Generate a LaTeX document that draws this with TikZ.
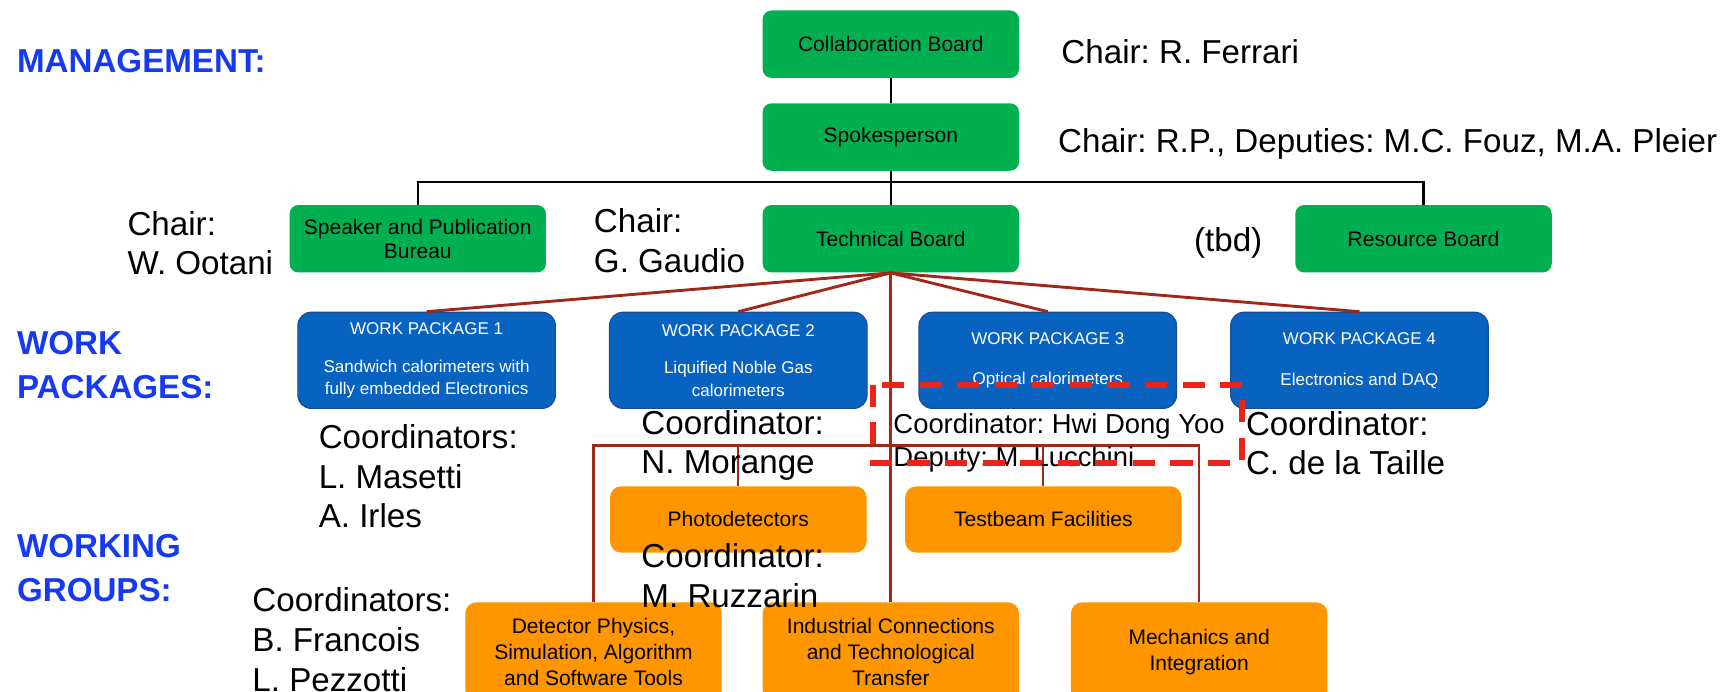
\documentclass[tikz,border=0pt]{standalone}
\usepackage{fontspec}
\setmainfont{Liberation Sans}
\usepackage{tikz}
\usetikzlibrary{positioning}
\frenchspacing
\definecolor{boardgreen}{RGB}{0,176,80}
\definecolor{wpblue}{RGB}{8,99,192}
\definecolor{wpedge}{RGB}{22,78,150}
\definecolor{wgorange}{RGB}{255,150,0}
\definecolor{linkred}{RGB}{160,40,25}
\definecolor{markred}{RGB}{236,36,24}
\definecolor{labelblue}{RGB}{22,58,242}
\tikzset{board/.style = {fill=boardgreen, rounded corners=4pt, minimum width=116pt, minimum height=30.5pt, align=center, font=\fontsize{9.5}{11}\selectfont}}
\tikzset{wpbox/.style = {fill=wpblue, draw=wpedge, line width=0.5pt, text=white, rounded corners=6pt, minimum width=116.5pt, minimum height=43.5pt, align=center, font=\fontsize{7.7}{10}\selectfont}}
\tikzset{wgbox/.style = {fill=wgorange, rounded corners=5pt, minimum width=116pt, align=center, font=\fontsize{9.5}{11.8}\selectfont}}
\tikzset{names/.style = {anchor=west, inner sep=0pt, align=left, font=\fontsize{15}{18}\selectfont}}
\tikzset{sectlabel/.style = {anchor=west, inner sep=0pt, align=left, text=labelblue, font=\bfseries\fontsize{15}{20}\selectfont}}
\tikzset{mgmtlink/.style = {black, line width=1pt}}
\tikzset{techlink/.style = {linkred, line width=1.3pt}}
\tikzset{wglink/.style = {linkred, line width=1pt}}

\begin{document}
\begin{tikzpicture}[x=0.5pt, y=-0.5pt]
      \useasboundingbox (0,0) rectangle (1568,626);

      \node [sectlabel] (mgmtlabel) at (15,55) {MANAGEMENT:};
      \node [sectlabel] (wplabel) at (15,330) {WORK\\PACKAGES:};
      \node [sectlabel] (wglabel) at (15,514) {WORKING\\GROUPS:};

      \node [board] (collab) at (806,40) {Collaboration Board};
      \node [board] (spokes) at (806,124) {Spokesperson};
      \node [board] (speaker) at (378,216) {Speaker and Publication\\Bureau};
      \node [board] (techb) at (806,216) {Technical Board};
      \node [board] (resource) at (1288,216) {Resource Board};

      \node [names] (collabchair) at (960,47) {Chair: R. Ferrari};
      \node [names] (spokeschair) at (957,130) {Chair: R.P., Deputies: M.C. Fouz, M.A. Pleier};
      \node [names] (speakerchair) at (115,220) {Chair:\\W. Ootani};
      \node [names] (techchair) at (537,218) {Chair:\\G. Gaudio};
      \node [names] (resourcechair) at (1080,220) {(tbd)};

      \node [wpbox] (wp1) at (386,326) {WORK PACKAGE 1\\[7pt]Sandwich calorimeters with\\fully embedded Electronics};
      \node [wpbox] (wp2) at (668,326) {WORK PACKAGE 2\\[7pt]Liquified Noble Gas\\calorimeters};
      \node [wpbox] (wp3) at (948,326) {WORK PACKAGE 3\\[8.5pt]Optical calorimeters};
      \node [wpbox] (wp4) at (1230,326) {WORK PACKAGE 4\\[8.5pt]Electronics and DAQ};

      \node [wgbox, minimum height=30pt] (photo) at (668,470) {Photodetectors};
      \node [wgbox, minimum height=30pt, minimum width=125pt] (testb) at (944,470) {Testbeam Facilities};
      \node [wgbox, minimum height=45pt] (detect) at (537,590) {Detector Physics,\\Simulation, Algorithm\\and Software Tools};
      \node [wgbox, minimum height=45pt] (indus) at (806,590) {Industrial Connections\\and Technological\\Transfer};
      \node [wgbox, minimum height=45pt] (mech) at (1085,590) {Mechanics and\\Integration};

      \draw [mgmtlink] (collab) -- (spokes);
      \draw [mgmtlink] (spokes) -- (techb);
      \coordinate (mgmtbar) at (806,165);
      \draw [mgmtlink] (speaker.north) |- (mgmtbar) -| (resource.north);

      \foreach \i in {1,...,4}
        \draw [techlink] (techb.south) -- (wp\i.north);
      \draw [techlink] (techb.south) -- (indus.north);

      \coordinate (wgbar) at (806,403);
      \draw [wglink] (detect.north) |- (wgbar) -| (mech.north);
      \draw [wglink] (photo.north) -- (photo.north |- wgbar);
      \draw [wglink] (testb.north) -- (testb.north |- wgbar);

      \node [names] (wp1coord) at (288,431) {Coordinators:\\L. Masetti\\A. Irles};
      \node [names] (wp2coord) at (580,403) {Coordinator:\\N. Morange};
      \node [names, font=\fontsize{12.4}{15}\selectfont] (wp3coord) at (808,401) {Coordinator: Hwi Dong Yoo\\Deputy: M. Lucchini};
      \node [names] (wp4coord) at (1127,401) {Coordinator:\\C. de la Taille};
      \node [names] (photocoord) at (580,521) {Coordinator:\\M. Ruzzarin};
      \node [names] (detectcoord) at (228,579) {Coordinators:\\B. Francois\\L. Pezzotti};

      \draw [markred, line width=2.7pt, dash pattern=on 10pt off 7pt] (790,348) rectangle (1124,419);
    \end{tikzpicture}
\end{document}
